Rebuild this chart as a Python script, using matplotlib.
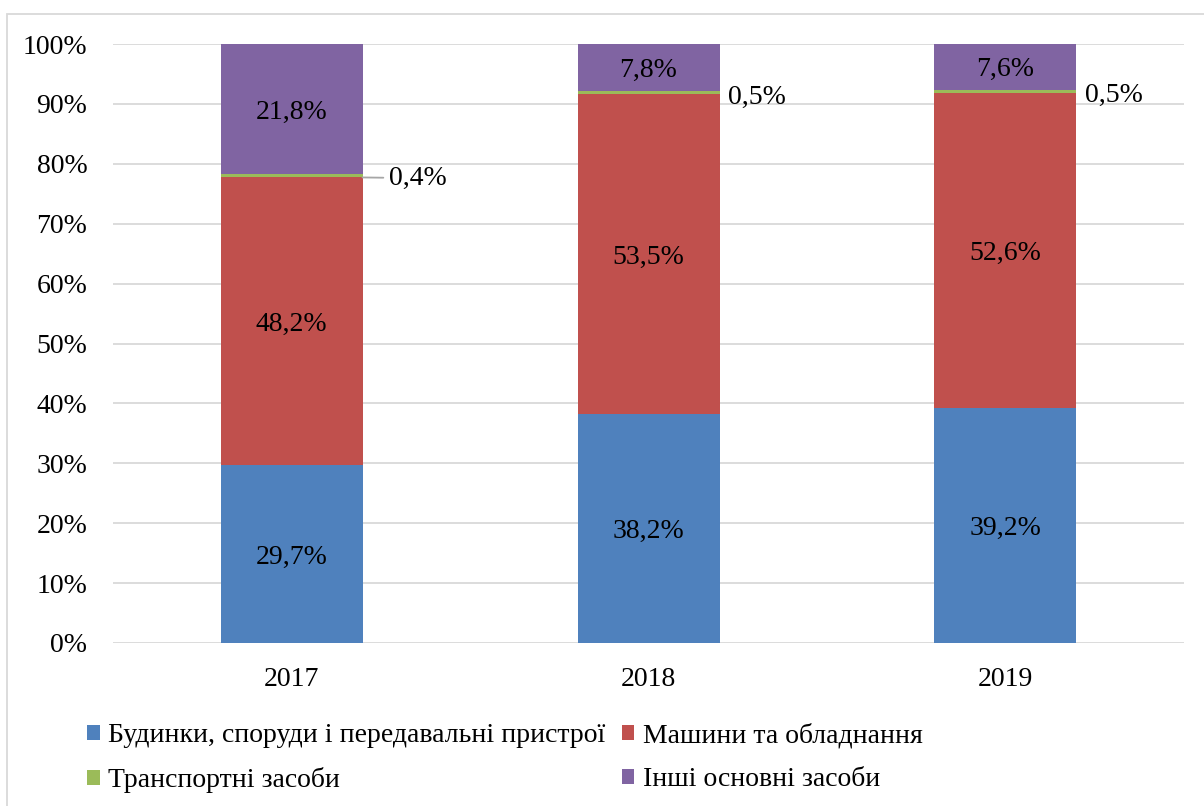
import matplotlib
matplotlib.use("Agg")
import matplotlib.pyplot as plt
import numpy as np
from matplotlib.patches import Rectangle

plt.rcParams['font.family'] = ['Liberation Serif', 'DejaVu Serif']

years = ["2017", "2018", "2019"]
series_names = ["Будинки, споруди і передавальні пристрої",
                "Машини та обладнання",
                "Транспортні засоби",
                "Інші основні засоби"]
buildings = [29.7, 38.2, 39.2]
machines = [48.2, 53.5, 52.6]
transport = [0.4, 0.5, 0.5]
other = [21.8, 7.8, 7.6]
colors = ["#4F81BD", "#C0504D", "#9BBB59", "#8064A2"]
yticks = [0, 10, 20, 30, 40, 50, 60, 70, 80, 90, 100]

FS = 20
W, H = 1204, 806
fig = plt.figure(figsize=(W / 100, H / 100), dpi=100)
ax = fig.add_axes([113 / W, 1 - 643 / H, (1184 - 113) / W, (643 - 44) / H])

data = np.array([buildings, machines, transport, other], dtype=float)
totals = data.sum(axis=0)
shares = data / totals * 100

x = np.arange(len(years)) + 0.5
bw = 142 / 357
bottom = np.zeros(len(years))
handles = []
for i in range(4):
    b = ax.bar(x, shares[i], bw, bottom=bottom, color=colors[i], label=series_names[i], zorder=3)
    handles.append(b)
    for j in range(len(years)):
        if i != 2:
            ax.text(x[j], bottom[j] + shares[i][j] / 2 - 0.5, f"{data[i][j]:.1f}%".replace(".", ","),
                    ha="center", va="center", fontsize=FS, zorder=4)
    bottom += shares[i]

# small transport labels
base = shares[0] + shares[1]
for j in range(len(years)):
    mid = base[j] + shares[2][j] / 2
    lab = f"{transport[j]:.1f}%".replace(".", ",")
    if j == 0:
        ax.annotate(lab, xy=(x[j] + bw / 2, mid - 0.3), xytext=(19, -0.5), textcoords="offset points",
                    ha="left", va="center", fontsize=FS,
                    arrowprops=dict(arrowstyle="-", color="#A6A6A6", lw=1.3, shrinkA=2, shrinkB=0))
    else:
        ax.annotate(lab, xy=(x[j] + bw / 2, mid - 0.8), xytext=(6, 0), textcoords="offset points",
                    ha="left", va="center", fontsize=FS)

ax.set_xlim(0, 3)
ax.set_ylim(0, 100)
ax.set_yticks(yticks)
ax.set_yticklabels([f"{t}%" for t in yticks])
ax.set_xticks(x)
ax.set_xticklabels(years)
ax.tick_params(axis="both", length=0, labelsize=FS)
ax.tick_params(axis="y", pad=18.5)
ax.tick_params(axis="x", pad=17)
ax.grid(axis="y", color="#D9D9D9", lw=1.3, zorder=0)
for s in ax.spines.values():
    s.set_visible(False)

# legend: row1 buildings, machines; row2 transport, other
order = [0, 2, 1, 3]
leg = fig.legend([handles[k] for k in order], [series_names[k] for k in order],
                 ncol=2, loc="upper left", bbox_to_anchor=(87 / W, 1 - 723 / H),
                 frameon=False, fontsize=FS, handlelength=0.45, handleheight=0.45,
                 handletextpad=0.3, columnspacing=0.6, labelspacing=0.67, borderaxespad=0,
                 borderpad=0)

# figure border
fig.patches.append(Rectangle((7 / W, -0.01), 1.1, 1 - 14 / H + 0.01, transform=fig.transFigure,
                             fill=False, edgecolor="#D9D9D9", lw=1.3))

fig.savefig("out.png", dpi=100)
